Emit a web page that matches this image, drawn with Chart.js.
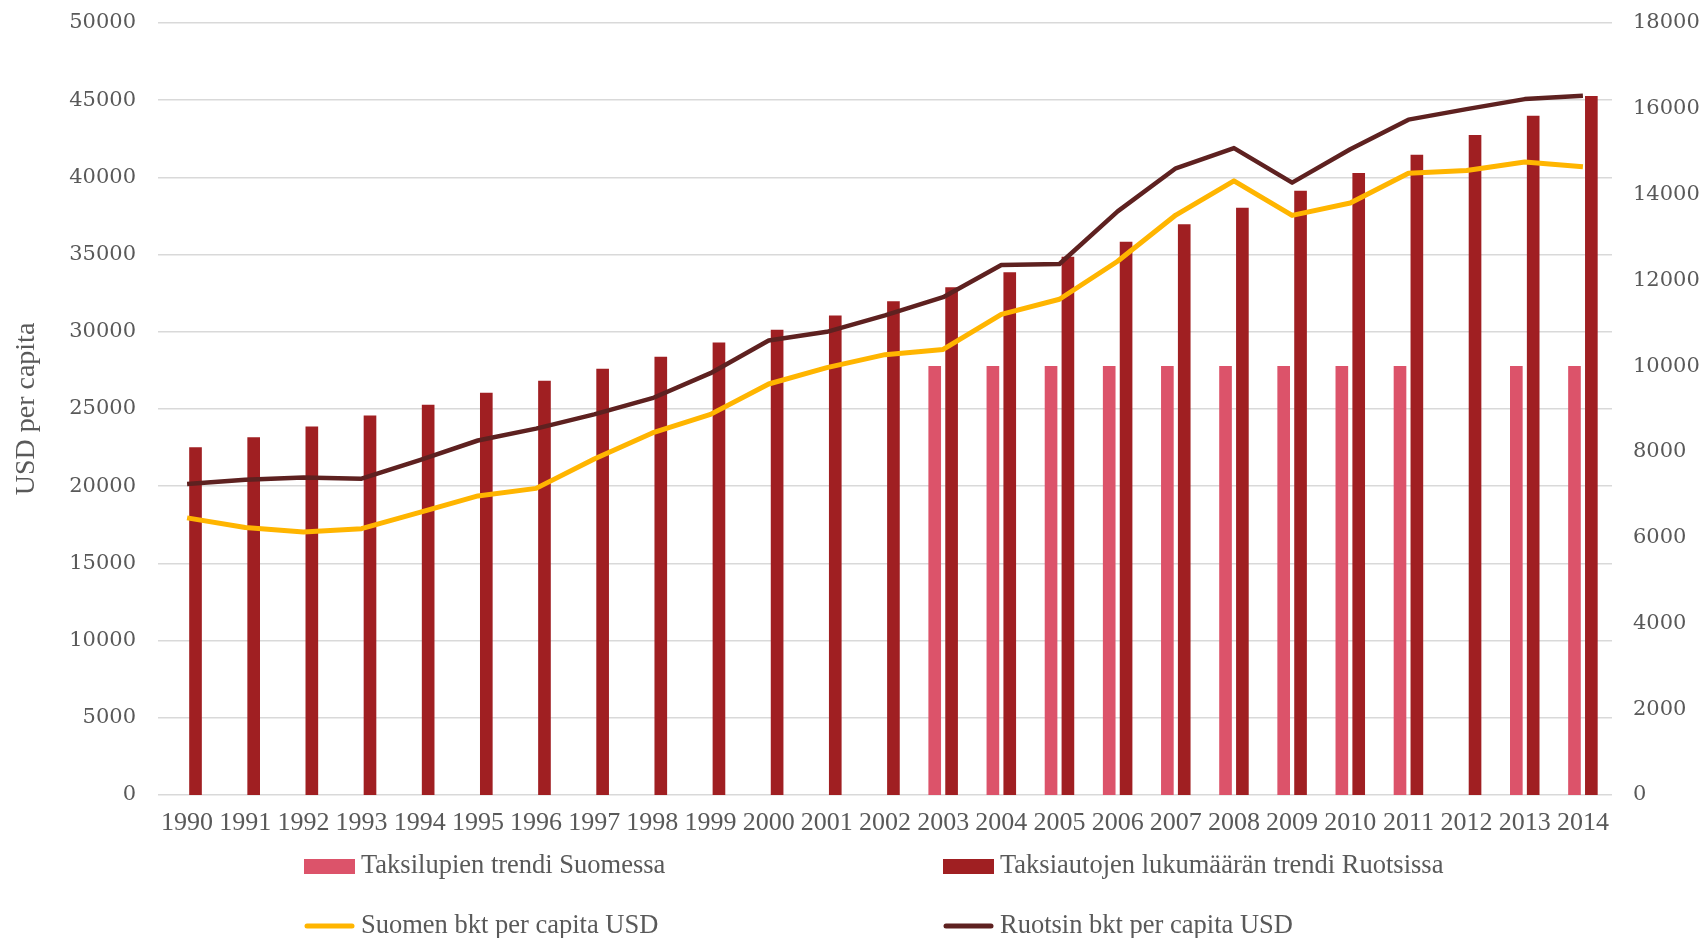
<!DOCTYPE html>
<html>
<head>
<meta charset="utf-8">
<script src="https://cdn.jsdelivr.net/npm/chart.js@4.4.1/dist/chart.umd.min.js"></script>
<style>
  body { margin: 0; background: #fff; }
  #wrap { width: 1705px; height: 938px; }
</style>
</head>
<body>
<div id="wrap"><canvas id="myChart"></canvas></div>
<script>
var years = [
  "1990", "1991", "1992", "1993", "1994", "1995", "1996", "1997", "1998",
  "1999", "2000", "2001", "2002", "2003", "2004", "2005", "2006", "2007",
  "2008", "2009", "2010", "2011", "2012", "2013", "2014",
];

// right axis (number of taxis)
var taksiluvatSuomi = [
  null, null, null, null, null, null, null, null, null, null, null, null, null,
  10000, 10000, 10000, 10000, 10000, 10000, 10000, 10000, 10000, null, 10000, 10000,
];
var taksiautotRuotsi = [
  8110, 8340, 8590, 8850, 9100, 9380, 9660, 9940, 10220, 10550, 10850, 11180,
  11510, 11840, 12190, 12550, 12900, 13310, 13690, 14090, 14500, 14930, 15390,
  15840, 16300,
];

// left axis (USD per capita)
var suomenBkt = [
  17950, 17320, 17040, 17250, 18310, 19370, 19860, 21760, 23450, 24650, 26620,
  27680, 28520, 28860, 31130, 32110, 34570, 37560, 39780, 37540, 38340, 40270,
  40450, 41000, 40690,
];
var ruotsinBkt = [
  20140, 20420, 20560, 20490, 21690, 22960, 23730, 24650, 25700, 27320, 29440,
  30000, 31060, 32240, 34330, 34390, 37800, 40590, 41900, 39660, 41820, 43740,
  44420, 45070, 45290,
];

var tickColor = "#595959";
var gridColor = "#d9d9d9";

// legend laid out in two columns, like the original
var legendGrid = {
  id: "legendGrid",
  afterDraw: function (chart) {
    var ctx = chart.ctx;
    var cols = [304, 943];
    var rows = [866, 926];
    ctx.save();
    chart.data.datasets.forEach(function (ds, i) {
      var x = cols[i % 2];
      var y = rows[Math.floor(i / 2)];
      if (ds.type === "line") {
        ctx.strokeStyle = ds.borderColor;
        ctx.lineWidth = 5;
        ctx.lineCap = "round";
        ctx.beginPath();
        ctx.moveTo(x + 3, y);
        ctx.lineTo(x + 48, y);
        ctx.stroke();
      } else {
        ctx.fillStyle = ds.backgroundColor;
        ctx.fillRect(x, y - 7, 51, 15);
      }
      ctx.fillStyle = tickColor;
      ctx.font = "26.5px 'Liberation Serif', serif";
      ctx.textBaseline = "middle";
      ctx.textAlign = "left";
      ctx.fillText(ds.label, x + 57, y);
    });
    ctx.restore();
  },
};

function plain(value) {
  return String(value);
}

// the tick padding should not push the plot area down
function noTopPad(scale) {
  scale.paddingTop = 0;
  scale.paddingBottom = 0;
}

var ctx = document.getElementById("myChart").getContext("2d");

var myChart = new Chart(ctx, {
  data: {
    labels: years,
    datasets: [
      {
        type: "bar",
        label: "Taksilupien trendi Suomessa",
        data: taksiluvatSuomi,
        backgroundColor: "#dc536a",
        yAxisID: "y1",
        order: 1,
        categoryPercentage: 0.58,
        barPercentage: 0.75,
      },
      {
        type: "bar",
        label: "Taksiautojen lukumäärän trendi Ruotsissa",
        data: taksiautotRuotsi,
        backgroundColor: "#a01f22",
        yAxisID: "y1",
        order: 1,
        categoryPercentage: 0.58,
        barPercentage: 0.75,
      },
      {
        type: "line",
        label: "Suomen bkt per capita USD",
        data: suomenBkt,
        borderColor: "#ffb500",
        backgroundColor: "#ffb500",
        borderWidth: 5,
        pointRadius: 0,
        tension: 0,
        borderJoinStyle: "round",
        yAxisID: "y",
        order: 0,
      },
      {
        type: "line",
        label: "Ruotsin bkt per capita USD",
        data: ruotsinBkt,
        borderColor: "#5e2120",
        backgroundColor: "#5e2120",
        borderWidth: 4.5,
        pointRadius: 0,
        tension: 0,
        borderJoinStyle: "round",
        yAxisID: "y",
        order: 0,
      },
    ],
  },
  options: {
    responsive: true,
    maintainAspectRatio: false,
    animation: false,
    layout: { padding: { top: 23, left: 0, right: 0, bottom: 0 } },
    plugins: {
      legend: { display: false },
      tooltip: { enabled: false },
    },
    scales: {
      x: {
        grid: { display: false, drawTicks: false },
        border: { display: false },
        ticks: {
          color: tickColor,
          font: { family: "'Liberation Serif', serif", size: 26 },
          padding: 13,
          autoSkip: false,
          maxRotation: 0,
        },
        afterFit: function (scale) { scale.height = 143; },
      },
      y: {
        position: "left",
        min: 0,
        max: 50000,
        ticks: {
          stepSize: 5000,
          color: tickColor,
          font: { family: "'DejaVu Serif', serif", size: 21 },
          padding: 22,
          callback: plain,
        },
        grid: { color: gridColor, lineWidth: 1.5, drawTicks: false },
        border: { display: false },
        title: {
          display: true,
          text: "USD per capita",
          color: tickColor,
          font: { family: "'Liberation Serif', serif", size: 28 },
          padding: { top: 10, bottom: 4 },
        },
        afterFit: function (scale) {
          scale.width = 158;
          noTopPad(scale);
        },
      },
      y1: {
        position: "right",
        min: 0,
        max: 18000,
        ticks: {
          stepSize: 2000,
          color: tickColor,
          font: { family: "'DejaVu Serif', serif", size: 21 },
          padding: 21,
          callback: plain,
        },
        grid: { display: false, drawTicks: false },
        border: { display: false },
        afterFit: function (scale) {
          scale.width = 93;
          noTopPad(scale);
        },
      },
    },
  },
  plugins: [legendGrid],
});
</script>
</body>
</html>
